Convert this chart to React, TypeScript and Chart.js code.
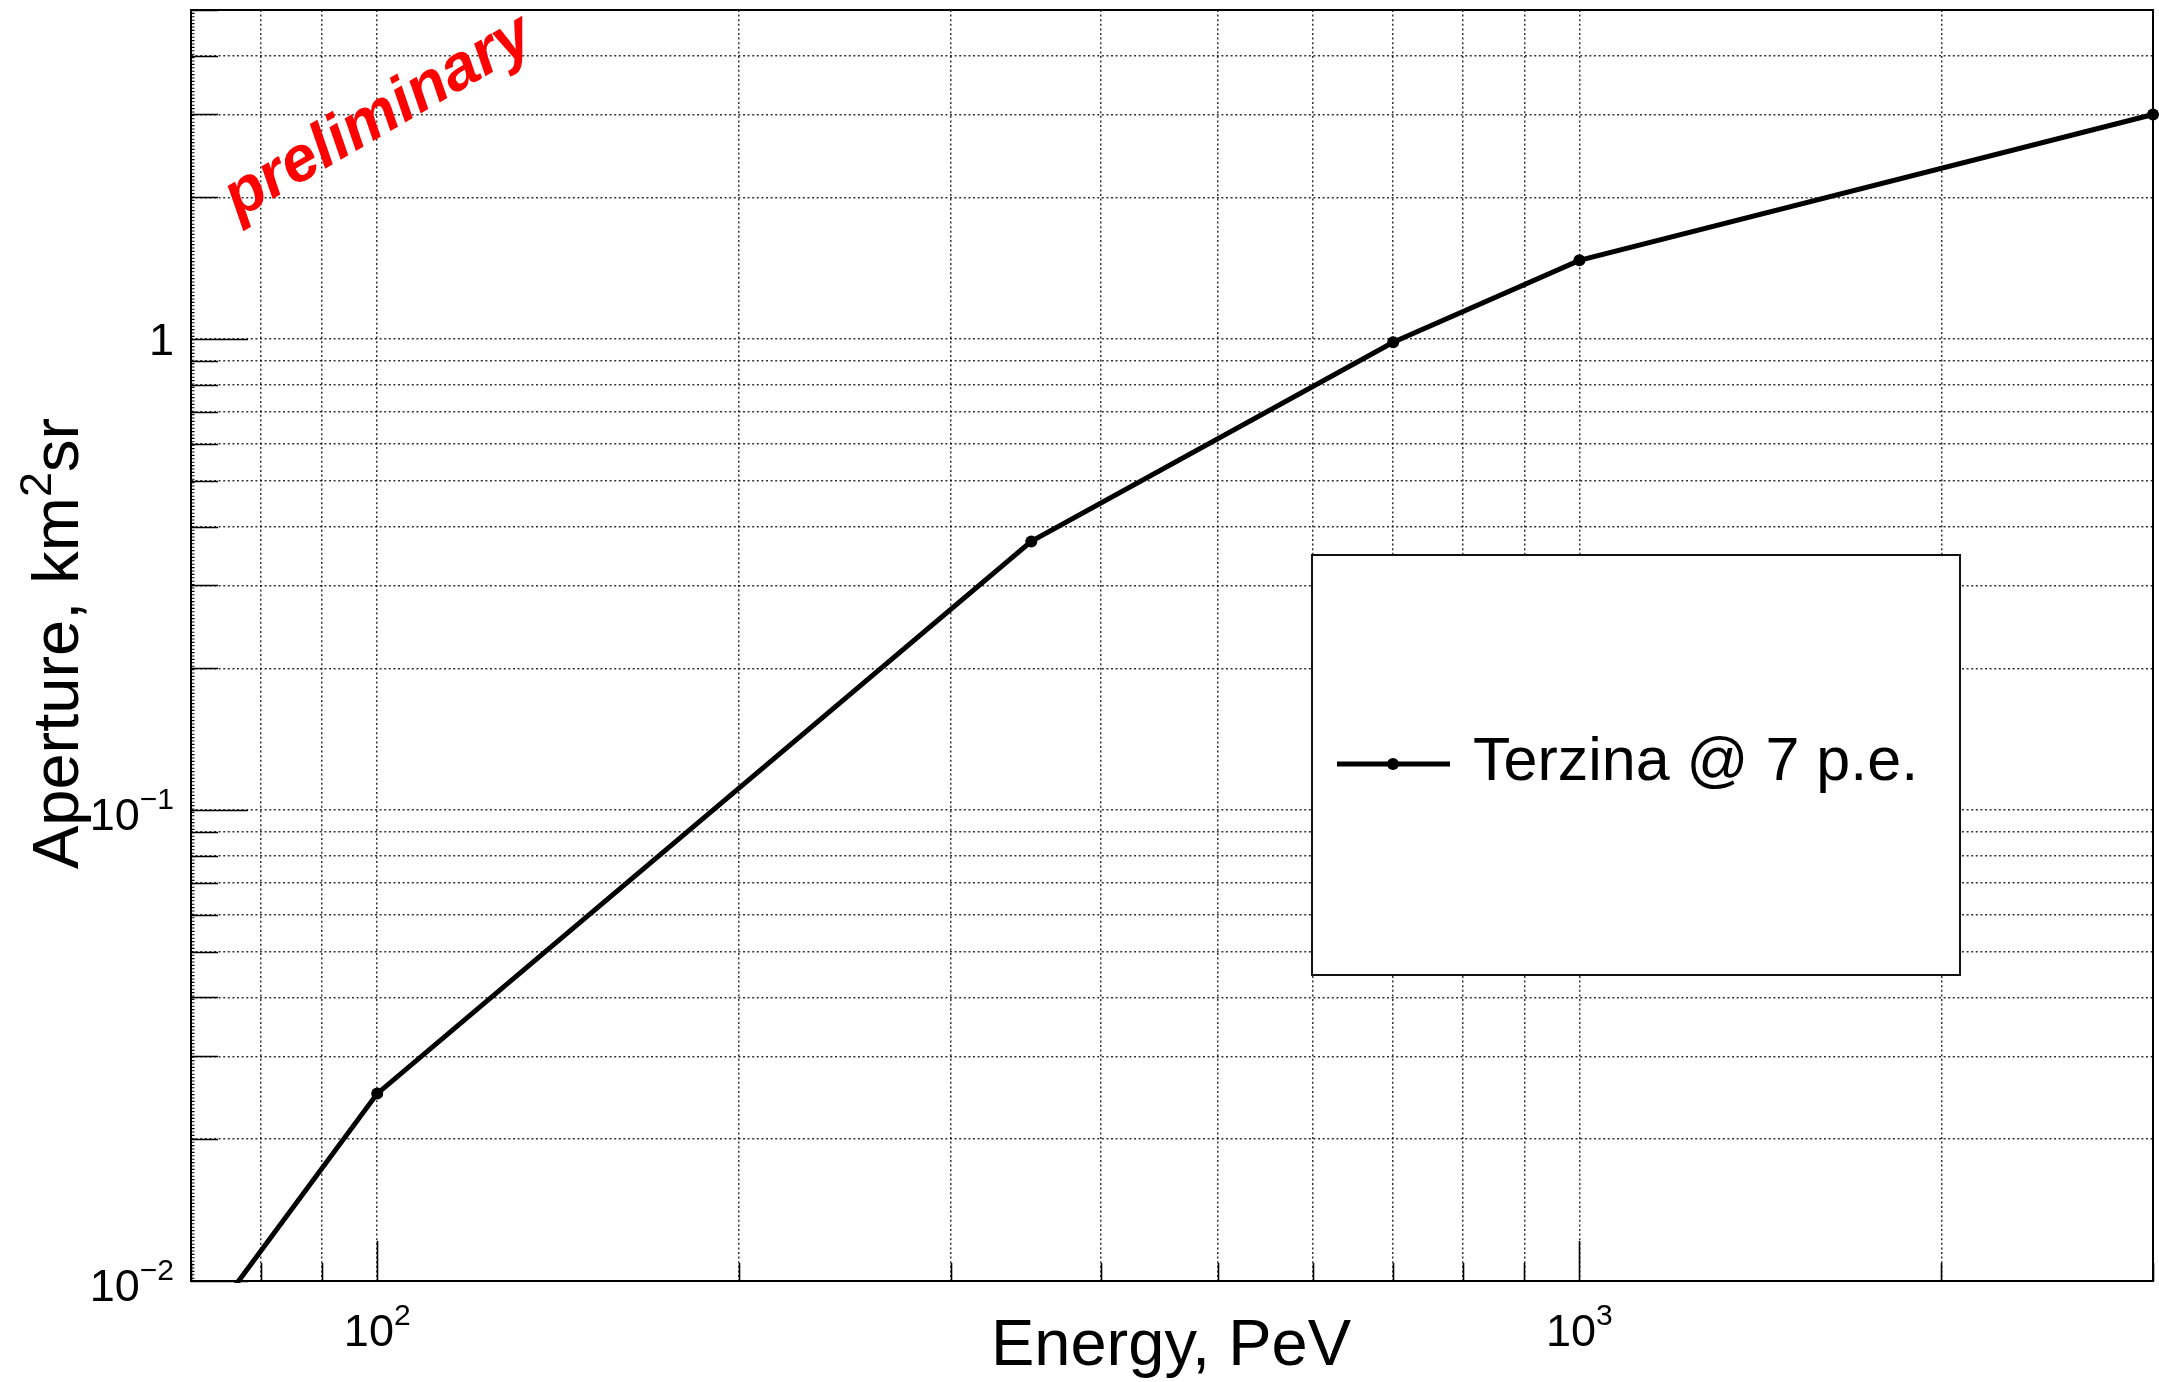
import { useEffect, useRef } from "react";
import { Chart, registerables } from "chart.js";

Chart.register(...registerables);

// Aperture of Terzina versus shower energy (threshold 7 p.e.)
const energyPeV: number[] = [70, 100, 350, 700, 1000, 3000];
const apertureKm2Sr: number[] = [0.0073, 0.025, 0.372, 0.985, 1.47, 3.0];
const seriesLabel = "Terzina @ 7 p.e.";

// Axis ranges (log-log)
const xRange: number[] = [70, 3000];
const yRange: number[] = [0.01, 5];

// Labelled decades
const xLabelValues: number[] = [100, 1000];
const xLabelBases: string[] = ["10", "10"];
const xLabelExponents: string[] = ["2", "3"];
const yLabelValues: number[] = [0.01, 0.1, 1];
const yLabelBases: string[] = ["10", "10", "1"];
const yLabelExponents: string[] = ["\u22122", "\u22121", ""];

const xTitle = "Energy, PeV";
const yTitleParts: string[] = ["Aperture, km", "2", "sr"];
const stampText = "preliminary";

const FONT = "'Liberation Sans', Arial, Helvetica, sans-serif";
const W = 2159;
const H = 1382;

// 1..9 x 10^n steps within [min, max]
function logSteps(min: number, max: number): number[] {
  const out: number[] = [];
  const e0 = Math.floor(Math.log10(min));
  const e1 = Math.ceil(Math.log10(max));
  for (let e = e0; e <= e1; e++) {
    for (let m = 1; m <= 9; m++) {
      const v = Number((m * Math.pow(10, e)).toPrecision(8));
      if (v >= min * 0.9999 && v <= max * 1.0001) out.push(v);
    }
  }
  return out;
}

const xGridValues = logSteps(xRange[0], xRange[1]);
const yGridValues = logSteps(yRange[0], yRange[1]);

const isDecade = (v: number) => Math.abs(Math.log10(v) - Math.round(Math.log10(v))) < 1e-9;

function drawSci(
  ctx: CanvasRenderingContext2D,
  base: string,
  exp: string,
  x: number,
  y: number,
  align: "center" | "right" | "left",
  baseSize: number,
  expSize: number,
  raise: number
) {
  ctx.font = `${baseSize}px ${FONT}`;
  const wb = ctx.measureText(base).width;
  ctx.font = `${expSize}px ${FONT}`;
  const we = exp ? ctx.measureText(exp).width : 0;
  const total = wb + we;
  const x0 = align === "center" ? x - total / 2 : align === "right" ? x - total : x;
  ctx.textAlign = "left";
  ctx.textBaseline = "alphabetic";
  ctx.font = `${baseSize}px ${FONT}`;
  ctx.fillText(base, x0, y);
  if (exp) {
    ctx.font = `${expSize}px ${FONT}`;
    ctx.fillText(exp, x0 + wb, y - raise);
  }
}

const rootFrame = {
  id: "rootFrame",
  afterDraw(chart: any) {
    const { ctx, chartArea: a, scales } = chart;
    const xs = scales.x;
    const ys = scales.y;
    ctx.save();
    ctx.fillStyle = "#000";
    ctx.strokeStyle = "#000";

    // inner tick marks
    ctx.lineWidth = 1.6;
    ctx.beginPath();
    for (const v of xGridValues) {
      const px = Math.round(xs.getPixelForValue(v)) + 0.5;
      const len = isDecade(v) ? 40 : 18;
      ctx.moveTo(px, a.bottom);
      ctx.lineTo(px, a.bottom - len);
    }
    for (const v of yGridValues) {
      const py = Math.round(ys.getPixelForValue(v)) + 0.5;
      const len = isDecade(v) ? 57 : 27;
      ctx.moveTo(a.left, py);
      ctx.lineTo(a.left + len, py);
    }
    ctx.stroke();

    // fine ruler ticks along the y axis
    ctx.lineWidth = 1.1;
    ctx.beginPath();
    for (let y = a.top; y <= a.bottom; y += 3.4) {
      ctx.moveTo(a.left, y);
      ctx.lineTo(a.left + 3.5, y);
    }
    ctx.stroke();

    // frame
    ctx.lineWidth = 2;
    ctx.strokeRect(a.left, a.top, a.right - a.left, a.bottom - a.top);

    // x tick labels
    xLabelValues.forEach((v, i) => {
      const px = xs.getPixelForValue(v);
      drawSci(ctx, xLabelBases[i], xLabelExponents[i], px, a.bottom + 65, "center", 45, 30, 21);
    });
    // y tick labels
    yLabelValues.forEach((v, i) => {
      const py = ys.getPixelForValue(v);
      const exp = yLabelExponents[i];
      drawSci(ctx, yLabelBases[i], exp, a.left - 17, py + (exp ? 20 : 16), "right", 45, 30, 21);
    });

    // axis titles
    ctx.font = `65px ${FONT}`;
    ctx.textAlign = "center";
    ctx.textBaseline = "alphabetic";
    ctx.fillText(xTitle, (a.left + a.right) / 2 - 1, a.bottom + 84);

    ctx.save();
    ctx.translate(78, (a.top + a.bottom) / 2 - 2);
    ctx.rotate(-Math.PI / 2);
    ctx.font = `65px ${FONT}`;
    const w0 = ctx.measureText(yTitleParts[0]).width;
    const w2 = ctx.measureText(yTitleParts[2]).width;
    ctx.font = `45px ${FONT}`;
    const w1 = ctx.measureText(yTitleParts[1]).width;
    let tx = -(w0 + w1 + w2) / 2;
    ctx.textAlign = "left";
    ctx.font = `65px ${FONT}`;
    ctx.fillText(yTitleParts[0], tx, 0);
    tx += w0;
    ctx.font = `45px ${FONT}`;
    ctx.fillText(yTitleParts[1], tx, -27);
    tx += w1;
    ctx.font = `65px ${FONT}`;
    ctx.fillText(yTitleParts[2], tx, 0);
    ctx.restore();

    // legend box
    const ds = chart.data.datasets[0];
    const lx0 = 1312, ly0 = 555, lx1 = 1960, ly1 = 975;
    ctx.fillStyle = "#fff";
    ctx.fillRect(lx0, ly0, lx1 - lx0, ly1 - ly0);
    ctx.strokeStyle = "#111";
    ctx.lineWidth = 2;
    ctx.strokeRect(lx0, ly0, lx1 - lx0, ly1 - ly0);
    const ly = 764;
    ctx.strokeStyle = ds.borderColor;
    ctx.lineWidth = ds.borderWidth;
    ctx.beginPath();
    ctx.moveTo(1337, ly);
    ctx.lineTo(1450, ly);
    ctx.stroke();
    ctx.fillStyle = ds.pointBackgroundColor;
    ctx.beginPath();
    ctx.arc(1393, ly, ds.pointRadius, 0, Math.PI * 2);
    ctx.fill();
    ctx.fillStyle = "#000";
    ctx.font = `61px ${FONT}`;
    ctx.textAlign = "left";
    ctx.fillText(ds.label, 1473, 780);

    // stamp
    ctx.save();
    ctx.translate(238, 219);
    ctx.rotate(-Math.PI / 6);
    ctx.fillStyle = "#ff0000";
    ctx.font = `italic bold 64px ${FONT}`;
    ctx.textAlign = "left";
    ctx.fillText(stampText, 0, 0);
    ctx.restore();

    ctx.restore();
  },
};

export default function App() {
  const canvasRef = useRef<HTMLCanvasElement | null>(null);

  useEffect(() => {
    const canvas = canvasRef.current;
    if (!canvas) return;
    const gridStyle = {
      display: true,
      color: "rgba(0,0,0,0.8)",
      lineWidth: 1.5,
      drawTicks: false,
    };
    const chart = new Chart(canvas, {
      type: "line",
      data: {
        datasets: [
          {
            label: seriesLabel,
            data: energyPeV.map((x, i) => ({ x, y: apertureKm2Sr[i] })),
            borderColor: "#000",
            backgroundColor: "#000",
            pointBackgroundColor: "#000",
            pointBorderColor: "#000",
            borderWidth: 5,
            pointRadius: 6,
            pointBorderWidth: 0,
            tension: 0,
            fill: false,
            clip: { left: 2, top: 6, right: 6, bottom: 2 },
          } as any,
        ],
      },
      options: {
        animation: false,
        responsive: false,
        devicePixelRatio: 1,
        events: [],
        layout: { padding: { left: 191, top: 10, right: 4, bottom: 101 } },
        plugins: {
          legend: { display: false },
          tooltip: { enabled: false },
        },
        scales: {
          x: {
            type: "logarithmic",
            min: xRange[0],
            max: xRange[1],
            afterBuildTicks: (scale: any) => {
              scale.ticks = xGridValues.map((v) => ({ value: v, major: isDecade(v) }));
            },
            ticks: { display: false, autoSkip: false },
            grid: gridStyle,
            border: { display: false, dash: [2, 2.6] },
          },
          y: {
            type: "logarithmic",
            min: yRange[0],
            max: yRange[1],
            afterBuildTicks: (scale: any) => {
              scale.ticks = yGridValues.map((v) => ({ value: v, major: isDecade(v) }));
            },
            ticks: { display: false, autoSkip: false },
            grid: gridStyle,
            border: { display: false, dash: [2, 2.6] },
          },
        },
      } as any,
      plugins: [rootFrame],
    });
    return () => chart.destroy();
  }, []);

  return (
    <div style={{ position: "fixed", left: 0, top: 0, width: W, height: H, background: "#fff" }}>
      <canvas ref={canvasRef} width={W} height={H} style={{ width: W, height: H, display: "block" }} />
    </div>
  );
}
